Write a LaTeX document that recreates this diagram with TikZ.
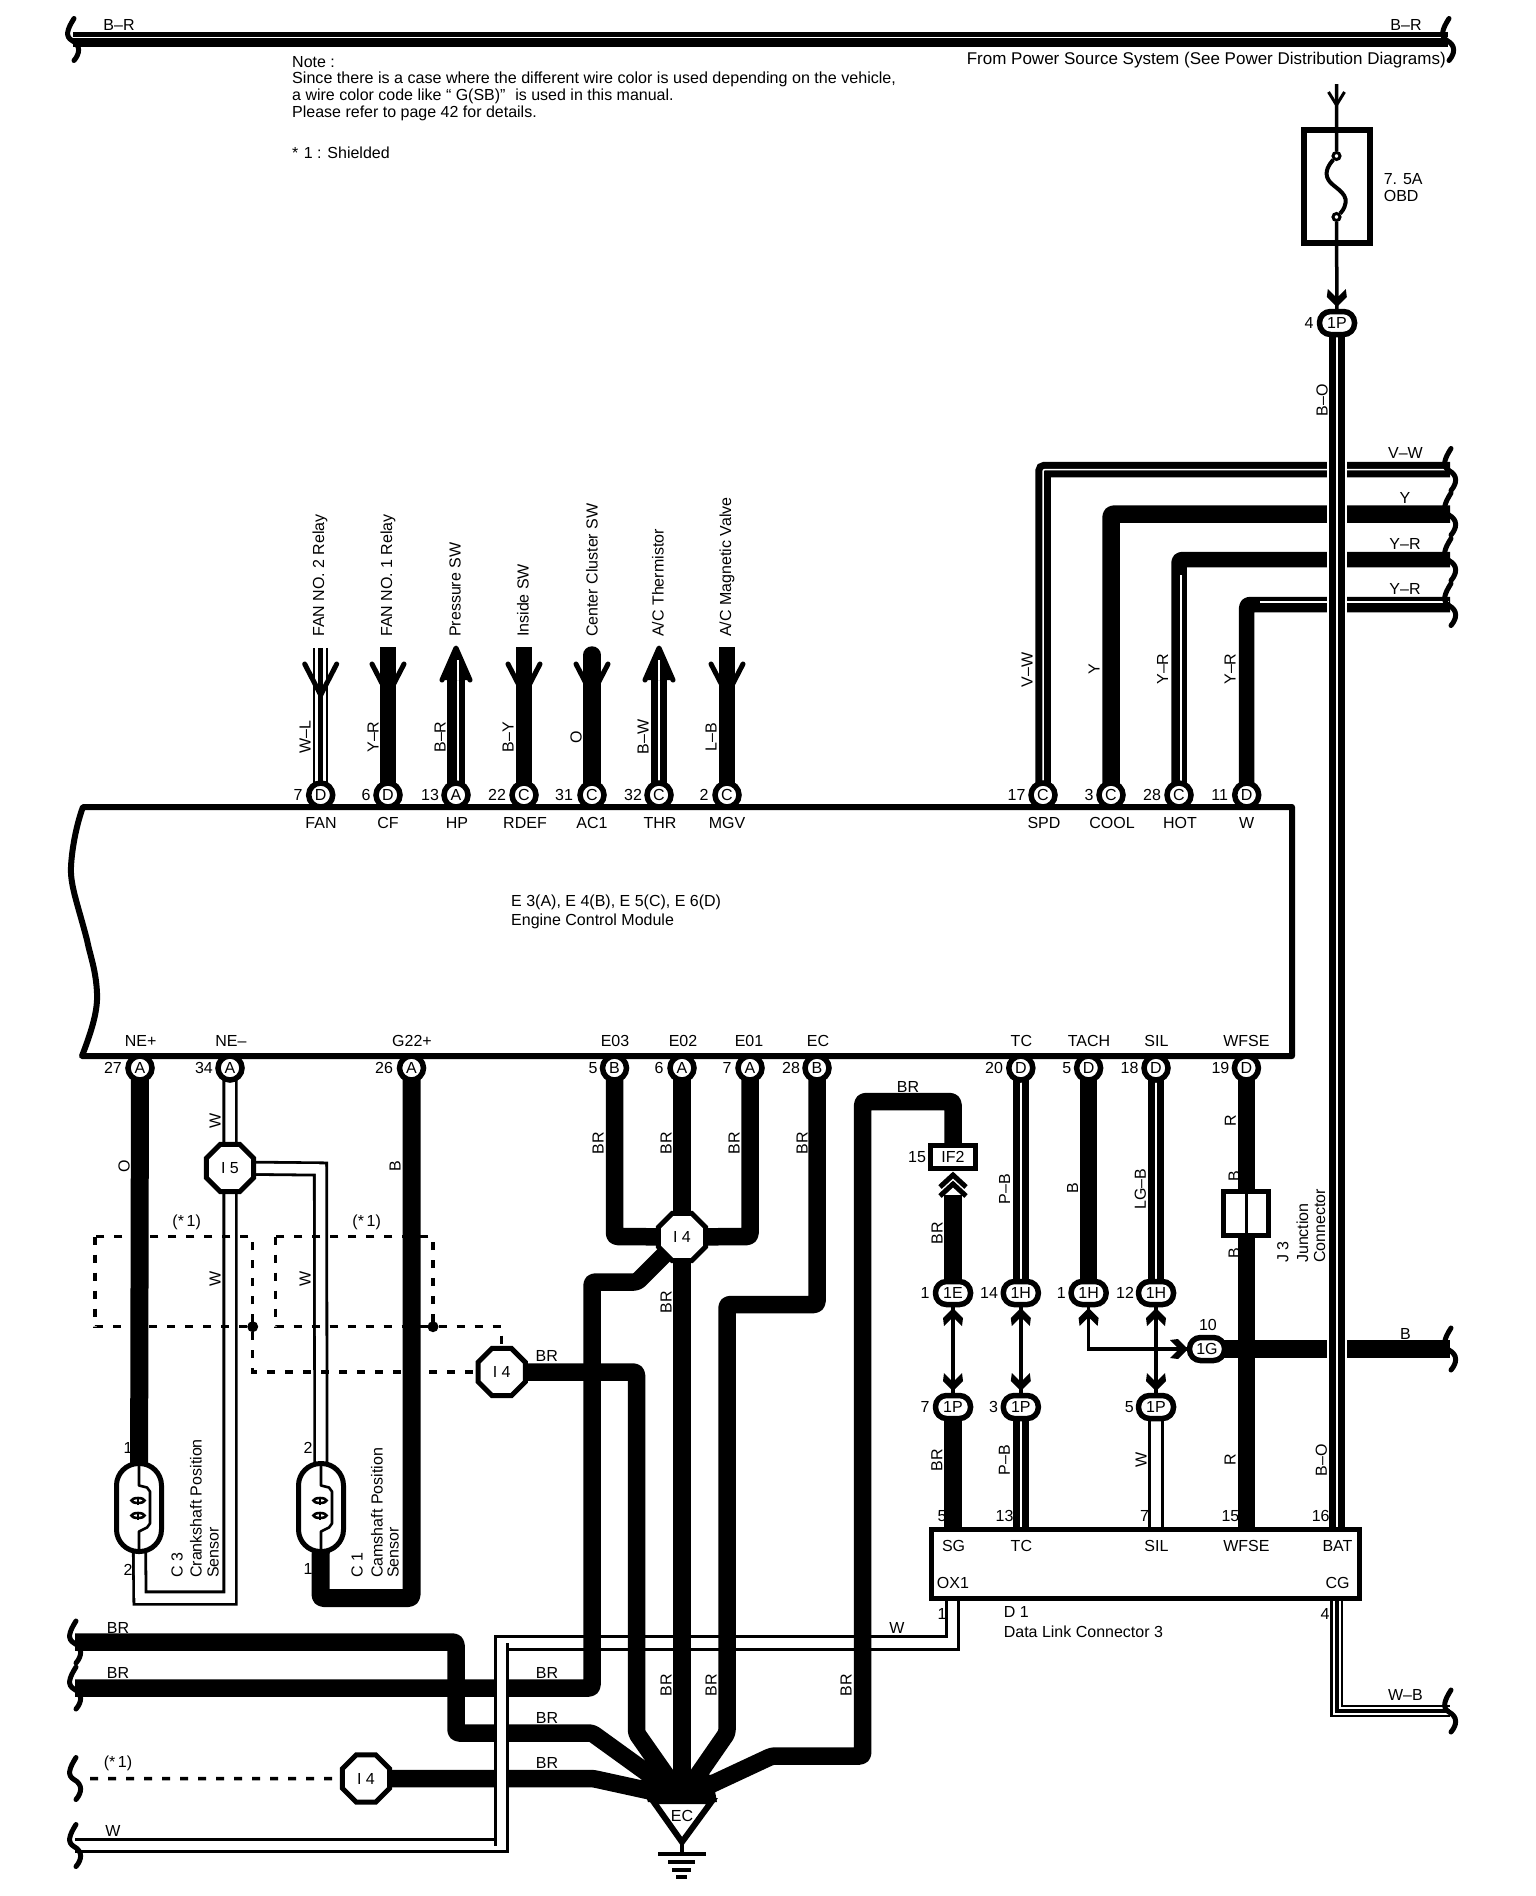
\documentclass[tikz,border=0pt]{standalone}
\usepackage{fontspec}
\setmainfont{Liberation Sans}
\usetikzlibrary{shapes.geometric}
\pgfdeclarelayer{wires}
\pgfsetlayers{wires,main}
\tikzset{
  heavy/.style={line width=17.5,rounded corners=3,line join=round},
  medium/.style={line width=15.5,rounded corners=3,line join=round},
  stripe/.style={line width=7,double=white,double distance=1.5,rounded corners=2},
  hollow/.style={line width=2.8,double=white,double distance=9.5},
  shield/.style={line width=3.5,dash pattern=on 8pt off 10pt},
  lbl/.style={inner sep=0,font=\fontsize{16}{16}\selectfont},
  rlbl/.style={lbl,rotate=90},
  pin/.style={circle,draw,fill=white,line width=5.5,minimum size=24,inner sep=0,font=\fontsize{16}{16}\selectfont},
  pill/.style={rectangle,rounded corners=11,draw,fill=white,line width=5.5,minimum width=35,minimum height=23,inner sep=0,font=\fontsize{16}{16}\selectfont},
  octa/.style={regular polygon,regular polygon sides=8,draw,fill=white,line width=5,minimum size=51,inner sep=0,font=\fontsize{16}{16}\selectfont},
  brk/.pic={\draw[line width=5,line cap=round] (1,-21) .. controls (-6,-10) and (-8,-3) .. (-1,1) .. controls (8,6) and (7,14) .. (1,21);},
  yhead/.pic={\draw[line width=5,line cap=round,line join=miter] (-16,-31) -- (0,0) -- (16,-31);},
  uhead/.pic={\fill (0,0) -- (16,34) -- (-16,34) -- cycle;\draw[line width=5,line cap=round,line join=round] (-14,34) -- (0,2) -- (14,34);},
  shead/.pic={\fill (0,0) -- (10,10) -- (9,18) -- (2,11) -- (-2,11) -- (-9,18) -- (-10,10) -- cycle;},
  coil/.pic={
    \draw[line width=2.6,line join=round] (0,-46) -- (0,-22) -- (8,-20) -- (11,-16) -- (11,16) -- (8,20) -- (0,24) -- (0,46);
    \draw[line width=2.6] (-1,-7) ellipse (6.5 and 2.5);
    \draw[line width=2.6] (-1,8) ellipse (6.5 and 2.5);
    \draw[line width=2.6] (-1,-11) -- (-1,-3) (-1,4) -- (-1,12);},
}
\begin{document}
\begin{tikzpicture}[x=1pt,y=-1pt]
\useasboundingbox (0,0) rectangle (1536,1896);
% free ends
\coordinate (busL) at (73,39.5);
\coordinate (busR) at (1448,39.5);
\coordinate (fuseIn) at (1336.5,84);
\coordinate (vwEnd) at (1450,469.5);
\coordinate (yEnd) at (1450,514);
\coordinate (yrEnd) at (1450,559.5);
\coordinate (yr2End) at (1450,604.5);
\coordinate (bEnd) at (1450,1349);
\coordinate (wbEnd) at (1450,1711);
\coordinate (l1) at (75,1642);
\coordinate (l2) at (75,1688);
\coordinate (l3) at (75,1778.5);
\coordinate (l4) at (75,1845.5);
\coordinate (gnd) at (682,1798);
\coordinate (ox1) at (952.5,1564);
\coordinate (cg) at (1336.5,1564);
% module
\draw[fill=white,line width=6,line join=round] (83,807) -- (1292,807) -- (1292,1056) -- (82,1056) .. controls (92,1030) and (98,1010) .. (97,993) .. controls (96,970) and (90,955) .. (87,940) .. controls (78,905) and (70,885) .. (71,867) .. controls (72,845) and (78,820) .. (83,807) -- cycle;
% pins
\foreach \n/\x/\y/\t in {fan/320.7/795/D,cf/388/795/D,hp/456/795/A,rdef/524/795/C,acone/592/795/C,thr/659/795/C,mgv/727/795/C,spd/1043/795/C,cool/1111/795/C,hot/1179/795/C,wt/1246.7/795/D,
  nep/140/1068/A,nem/230/1068/A,gtt/411.5/1068/A,eoth/614.5/1068/B,eotw/682/1068/A,eoon/750/1068/A,ec/817/1068/B,tc/1020.8/1068/D,tach/1088.6/1068/D,sil/1156/1068/D,wfse/1246.4/1068/D}
  \node[pin] (P\n) at (\x,\y) {\t};
% connector blocks
\foreach \n/\x/\y/\t in {qfour/1337/323/1P,ee/953/1293/1E,ha/1020.8/1293/1H,hb/1088.6/1293/1H,hc/1156/1293/1H,pa/953/1407/1P,pb/1020.8/1407/1P,pc/1156/1407/1P,gg/1207/1349/1G}
  \node[pill] (Q\n) at (\x,\y) {\t};
\node[octa] (Ifive) at (230,1168) {I 5};
\node[octa] (Ia) at (682,1237) {I 4};
\node[octa] (Ib) at (501.7,1372) {I 4};
\node[octa] (Ic) at (366,1778.5) {I 4};
\node[rectangle,draw,fill=white,line width=5,minimum width=45,minimum height=23,inner sep=0,font=\fontsize{16}{16}\selectfont] (IFtwo) at (953,1157) {IF2};
\node[rectangle,draw,fill=white,line width=5,minimum width=45,minimum height=44,inner sep=0] (Jthree) at (1246.4,1213.5) {};
\draw[line width=3.5] (Jthree.north) -- (Jthree.south);
\node[rectangle,draw,fill=white,line width=5,minimum width=428,minimum height=69,inner sep=0] (Done) at (1145,1564) {};
\node[rectangle,rounded corners=22,draw,fill=white,line width=5,minimum width=45,minimum height=88,inner sep=0] (Cthree) at (139,1507.5) {};
\node[rectangle,rounded corners=22,draw,fill=white,line width=5,minimum width=45,minimum height=88,inner sep=0] (Cone) at (321,1507.5) {};
\pic at (Cthree.center) {coil};
\pic at (Cone.center) {coil};
% fuse
\node[rectangle,draw,line width=6,minimum width=66,minimum height=113,inner sep=0] (Fuse) at (1336.5,186.5) {};
\node[circle,draw,fill=white,line width=3,minimum size=7,inner sep=0] (FtA) at (1336.5,156) {};
\node[circle,draw,fill=white,line width=3,minimum size=7,inner sep=0] (FtB) at (1336.5,217) {};
\draw[line width=4] (FtA) .. controls (1329.5,164) and (1323.5,172) .. (1328.5,180) .. controls (1332.5,187) and (1347.5,192) .. (1345.5,203) .. controls (1344.5,209) and (1341.5,212) .. (FtB);
% shield dots
\node[circle,fill,minimum size=11,inner sep=0] (dotA) at (252.7,1326.7) {};
\node[circle,fill,minimum size=11,inner sep=0] (dotB) at (433,1326.7) {};
% ground
\fill (648,1802) -- (640,1780) -- (672,1772) -- (692,1772) -- (712,1775) -- (717,1802) -- cycle;
\draw[line width=6,line join=miter,fill=white] (653,1801) -- (682,1842) -- (712,1801) -- cycle;
\node[lbl] (ECt) at (682,1816) {EC};
\coordinate (apex) at (682,1842);
\coordinate (gb) at (682,1854);
\draw[line width=4] (apex) -- (gb);
\draw[line width=3.5] (658,1854) -- (706,1854);
\draw[line width=3.5] (668,1862) -- (695,1862);
\draw[line width=4] (672,1869.5) -- (691,1869.5);
\draw[line width=4] (676,1877) -- (687,1877);
% wires
\begin{pgfonlayer}{wires}
\fill[white] (0,0) rectangle (1536,1896);
\draw[line width=15] (busL) -- (busR);
\draw[white,line width=1.3] (busL |- 0,37.5) -- (busR |- 0,37.5);
\draw[line width=3.5] (fuseIn) -- (FtA) (FtB) -- (Qqfour.center);
% upper row
\draw[hollow,line width=2,double distance=11] (Pfan.center) -- (320.7,648);
\draw[line width=4.5] (Pfan.center) -- (320.7,648);
\draw[medium] (Pcf.center) -- (388,647);
\draw[heavy] (Php.center) -- (456,680);
\draw[white,line width=1.4] (458,795) -- (458,660);
\draw[medium] (Prdef.center) -- (524,647);
\draw[line width=17.5,line cap=round] (Pacone.center) -- (592,655);
\draw[medium,line width=16] (Pthr.center) -- (659,680);
\draw[white,line width=1.4] (Pthr.center) -- (659,660);
\draw[medium] (Pmgv.center) -- (727,647);
% right harness
\draw[stripe] (Pspd.center) |- (vwEnd);
\draw[heavy] (Pcool.center) |- (yEnd);
\draw[medium] (Phot.center) |- (yrEnd);
\draw[white,line width=1.4] (1181,575) -- (1181,783);
\draw[medium] (Pwt.center) |- (yr2End);
\draw[white,line width=1.3] (1260,602) -- (1449,602);
\draw[heavy] (Qgg.center) -- (bEnd);
\draw[white,line width=20] (Qqfour.south) -- (Qqfour.south |- Done.north);
\draw[stripe] (Qqfour.center) -- (Qqfour.center |- Done.center);
% W-B
\draw[hollow,line width=2.4,double distance=8] (cg) |- (wbEnd);
\draw[line width=4] (cg) |- (wbEnd);
% left sensors
\draw[heavy,line width=18] (Pnep.center) -- (Cthree.center);
\draw[hollow] (Pnem.center) -- (Ifive.center) -- (230,1598) -- (140,1598) -- (Cthree.center);
\draw[hollow] (Ifive.center) -- (320.5,1169) -- (Cone.center);
\draw[heavy,line width=18] (Cone.center) -- (320.5,1598) -- (411.5,1598) -- (Pgtt.center);
\draw[shield] (95,1236.7) rectangle (252.7,1326.7);
\draw[shield] (275.7,1236.7) rectangle (433,1326.7);
\draw[shield] (dotA) |- (Ib);
\draw[shield] (dotB) -| (Ib);
\draw[shield] (90,1778.5) -- (Ic);
% W to D1
\draw[hollow,line width=3,double distance=9.5] (ox1) |- (501.5,1643) |- (l4);
% ground wires
\draw[heavy] (Ic.center) -- (593,1778.5) -- (gnd);
\draw[heavy] (l1) -- (456,1642) -- (456,1733) -- (592,1733) -- (gnd);
\draw[heavy] (l2) -- (592,1688) -- (592,1282) -- (637,1282) -- (Ia.center);
\draw[heavy] (Ib.center) -- (636.5,1372) -- (636.5,1733) -- (gnd);
\draw[heavy] (Peotw.center) -- (gnd);
\draw[heavy] (Pec.center) -- (817,1304.5) -- (727,1304.5) -- (727,1733) -- (gnd);
\draw[heavy] (IFtwo.center) -- (953,1101.5) -- (862.7,1101.5) -- (862.7,1756) -- (772,1756) -- (gnd);
\draw[heavy] (Qee.center) -- (953,1195);
\draw[heavy] (Qpa.center) -- (Qpa.center |- Done.center);
% lower mid
\draw[heavy] (Peoth.center) -- (614.5,1236.5) -- (Ia.center);
\draw[heavy] (Peoon.center) -- (750,1236.5) -- (Ia.center);
\draw[hollow,line width=3,double distance=9.5] (501.5,1643) -- (501.5,1845.5);
\draw[stripe] (Ptc.center) -- (Qha.center);
\draw[heavy,line width=17] (Ptach.center) -- (Qhb.center);
\draw[stripe] (Psil.center) -- (Qhc.center);
\draw[heavy,line width=16.5] (Pwfse.center) -- (Pwfse.center |- Done.center);
\draw[stripe] (Qpb.center) -- (Qpb.center |- Done.center);
\draw[hollow,line width=3,double distance=10] (Qpc.center) -- (Qpc.center |- Done.center);
\draw[line width=3.5] (Qee.center) -- (Qpa.center);
\draw[line width=3.5] (Qha.center) -- (Qpb.center);
\draw[line width=3.5] (Qhc.center) -- (Qpc.center);
\draw[line width=3.5] (Qhb.center) |- (Qgg.center);
\end{pgfonlayer}
% arrows
\foreach \x in {320.7,388,524,592,727} \pic at (\x,695) {yhead};
\pic at (456,646) {uhead};
\pic at (659,646) {uhead};
\draw[white,line width=1.4] (458,660) -- (458,680);
\draw[white,line width=1.4] (659,660) -- (659,680);
\foreach \x in {953,1020.8,1088.6,1156} \pic at (\x,1308) {shead};
\foreach \x in {953,1020.8,1156} \pic[rotate=180] at (\x,1391) {shead};
\pic[rotate=180] at (1336.8,307) {shead};
\pic[rotate=-90] at (1188,1349) {shead};
\draw[line width=3,line join=miter] (1328.5,92) -- (1336.5,105) -- (1344.5,92);
\draw[line width=5,line join=miter] (940,1187) -- (953,1175) -- (966,1187);
\draw[line width=5,line join=miter] (940,1196) -- (953,1184) -- (966,1196);
% brackets
\pic at (busL) {brk};
\pic at (busR) {brk};
\pic at (vwEnd) {brk};
\pic at (yEnd) {brk};
\pic at (yrEnd) {brk};
\pic at (yr2End) {brk};
\pic at (bEnd) {brk};
\pic at (wbEnd) {brk};
\pic at (l1) {brk};
\pic at (l2) {brk};
\pic at (l3) {brk};
\pic at (l4) {brk};
% text, left aligned
\node[lbl,anchor=west] (note1) at (292,62) {Note :};
\node[lbl,anchor=west,font=\fontsize{16.1}{16}\selectfont] (note2) at (292,79) {Since there is a case where the different wire color is used depending on the vehicle,};
\node[lbl,anchor=west] (note3) at (292,96) {a wire color code like “ G(SB)”\,\, is used in this manual.};
\node[lbl,anchor=west] (note4) at (292,113) {Please refer to page 42 for details.};
\node[lbl,anchor=west] (note5) at (292,153) {*\,\,1 : Shielded};
\node[lbl,anchor=east,font=\fontsize{17}{17}\selectfont] (src) at (1446,60.5) {From Power Source System (See Power Distribution Diagrams)};
\node[lbl,anchor=west] (fa) at (1383.6,179) {7. 5A};
\node[lbl,anchor=west] (fb) at (1383.6,196) {OBD};
\node[lbl,anchor=west] (ecma) at (511,902) {E 3(A), E 4(B), E 5(C), E 6(D)};
\node[lbl,anchor=west] (ecmb) at (511,921) {Engine Control Module};
\node[lbl,anchor=west] (dla) at (1003.6,1612) {D 1};
\node[lbl,anchor=west] (dlb) at (1003.6,1632) {Data Link Connector 3};
% text, centred
\foreach \x/\y/\t in {119/25/B–R,1406/25/B–R,
 298/795/7,366/795/6,430/795/13,497/795/22,564/795/31,633/795/32,704/795/2,1016.5/795/17,1089/795/3,1152/795/28,1219.7/795/11,
 321/823/FAN,388/823/CF,457/823/HP,525/823/RDEF,592/823/AC1,660/823/THR,727/823/MGV,1044/823/SPD,1112/823/COOL,1180/823/HOT,1246.7/823/W,
 1405.5/453/V–W,1405/498/Y,1405/544/Y–R,1405/589/Y–R,1309/323/4,
 140.7/1041/NE+,231/1041/NE–,412/1041/G22+,615/1041/E03,683/1041/E02,749/1041/E01,818/1041/EC,1021.4/1041/TC,1089/1041/TACH,1156.4/1041/SIL,1246.4/1041/WFSE,
 113/1068/27,204/1068/34,384/1068/26,593/1068/5,659/1068/6,727/1068/7,791/1068/28,994/1068/20,1066.8/1068/5,1129.6/1068/18,1220.4/1068/19,
 186.7/1222/(*\,1),366.7/1222/(*\,1),546.7/1356/BR,908/1087/BR,917/1157/15,
 925/1293/1,989/1293/14,1061.4/1293/1,1125/1293/12,925/1407/7,993.6/1407/3,1129.3/1407/5,1207.9/1325/10,1405.4/1334/B,
 128/1448/1,128/1570/2,308/1448/2,308/1569/1,
 942/1516/5,1004.6/1516/13,1144.6/1516/7,1230.4/1516/15,1320.7/1516/16,
 953.6/1546/SG,1021.4/1546/TC,1156.4/1546/SIL,1246.4/1546/WFSE,1337.5/1546/BAT,952.9/1583/OX1,1337.5/1583/CG,
 942/1614/1,1325/1614/4,1405.4/1695/W–B,897/1628/W,113/1831/W,
 118/1628/BR,118/1673/BR,118/1763/(*\,1),547/1673/BR,547/1718/BR,547/1763/BR}
 \node[lbl] (T\x-\y) at (\x,\y) {\t};
% vertical labels, centred
\foreach \x/\y/\t in {305/737/W–L,373/737/Y–R,440/737/B–R,508/737/B–Y,576/737/O,643/737/B–W,711/737/L–B,
 1027/670/V–W,1094/669/Y,1162.6/669/Y–R,1230/669/Y–R,1322/400/B–O,
 124/1166/O,395/1166/B,215/1121/W,215/1279/W,305/1279/W,
 598/1143/BR,666/1143/BR,734/1143/BR,802/1143/BR,666/1302/BR,937/1233/BR,
 1004.6/1189/P–B,1072.5/1188/B,1140.4/1189/LG–B,1230.4/1121/R,1234/1176/B,1234/1253/B,
 936.8/1460/BR,1004.3/1460/P–B,1141/1460/W,1230/1460/R,1321.4/1460/B–O,
 666/1685/BR,711/1685/BR,846/1685/BR}
 \node[rlbl] (V\x-\y) at (\x,\y) {\t};
% vertical labels, bottom aligned
\foreach \x/\y/\t in {320/637/FAN NO. 2 Relay,388/637/FAN NO. 1 Relay,455/637/Pressure SW,523/637/Inside SW,592/637/Center Cluster SW,658/637/{A/C Thermistor},727/637/{A/C Magnetic Valve},
 177/1578/C 3,196/1578/Crankshaft Position,213/1578/Sensor,357/1578/C 1,377/1578/Camshaft Position,393/1578/Sensor,
 1282.9/1263/J 3,1302.5/1263/Junction,1319.6/1263/Connector}
 \node[rlbl,anchor=west] (S\x-\y) at (\x,\y) {\t};
\end{tikzpicture}
\end{document}
